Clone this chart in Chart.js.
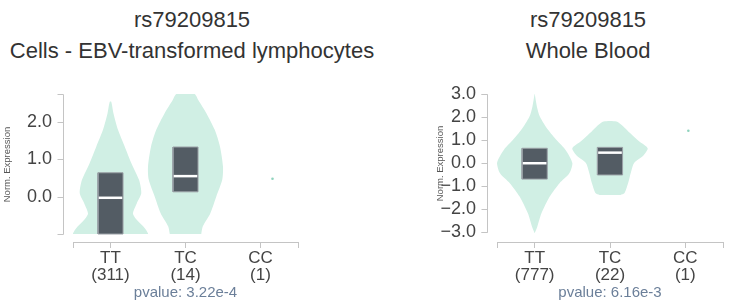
<!DOCTYPE html>
<html>
<head>
<meta charset="utf-8">
<script src="https://cdn.jsdelivr.net/npm/chart.js@4/dist/chart.umd.min.js"></script>
<style>
body { margin: 0; background: #fff; width: 741px; height: 308px; overflow: hidden; position: relative; font-family: 'Liberation Sans', Arial, sans-serif; }
.title { position: absolute; top: 4px; text-align: center; font-size: 22px; line-height: 31px; color: #333; white-space: nowrap; }
canvas { position: absolute; top: 0; }
</style>
</head>
<body>
<div class="title" style="left:0;width:384px">rs79209815<br>Cells - EBV-transformed lymphocytes</div>
<div class="title" style="left:438px;width:300px">rs79209815<br>Whole Blood</div>
<canvas id="lcl" width="370" height="308" style="left:0"></canvas>
<canvas id="blood" width="321" height="308" style="left:420px"></canvas>
<script>
// genotype groups, placed at 0.5, 1.5, 2.5 on a linear x scale
const genotypes = ['TT', 'TC', 'CC'];
const xTickValues = [0, 0.5, 1.5, 2.5, 3];

// Cells - EBV-transformed lymphocytes
const lclCounts = [311, 14, 1];
const lclPvalue = 'pvalue: 3.22e-4';
const lclYTicks = [0, 1, 2];
const lclDomain = [-1, 2.75];
const lclTTLevels = [-1.0, -0.98, -0.85, -0.62, -0.45, -0.18, 0.09, 0.45, 0.89, 1.34, 1.79, 2.23, 2.545];
const lclTTWidths = [0.5, 0.5, 0.46, 0.35, 0.30, 0.35, 0.41, 0.38, 0.28, 0.19, 0.10, 0.04, 0.01];
const lclTCLevels = [-1.0, -0.8, -0.45, 0, 0.45, 0.8, 1.34, 1.79, 2.23, 2.59, 2.75];
const lclTCWidths = [0.21, 0.23, 0.33, 0.41, 0.49, 0.50, 0.46, 0.39, 0.28, 0.17, 0.12];
const lclQ1 = [-1.0, 0.13];
const lclMedian = [-0.03, 0.55];
const lclQ3 = [0.64, 1.33];
const lclCCValue = 0.48;
const lclCCJitter = 0.16;

// Whole Blood
const bloodCounts = [777, 22, 1];
const bloodPvalue = 'pvalue: 6.16e-3';
const bloodYTicks = [-3, -2, -1, 0, 1, 2, 3];
const bloodDomain = [-3, 3];
const bloodTTLevels = [-3.05, -2.77, -2.19, -1.46, -0.88, -0.45, 0, 0.57, 1.0, 1.43, 2.01, 2.45, 3.03];
const bloodTTWidths = [0, 0.035, 0.09, 0.20, 0.33, 0.46, 0.50, 0.41, 0.29, 0.18, 0.07, 0.03, 0];
const bloodTCLevels = [-1.39, -1.32, -0.88, -0.38, 0, 0.35, 0.64, 0.93, 1.29, 1.58, 1.80];
const bloodTCWidths = [0.14, 0.19, 0.24, 0.28, 0.32, 0.45, 0.50, 0.39, 0.27, 0.18, 0.085];
const bloodQ1 = [-0.70, -0.52];
const bloodMedian = [-0.01, 0.45];
const bloodQ3 = [0.64, 0.68];
const bloodCCValue = 1.4;
const bloodCCJitter = 0.04;

const violinColor = '#d0efe4';
const boxColor = '#535c64';
const axisColor = '#c4c4c4';
const boxHalf = 0.167;

Chart.defaults.font.family = "'Liberation Sans', Arial, sans-serif";

// closed outline of a violin: right edge upwards, left edge back down
function violinPoints(center, levels, widths) {
    const right = levels.map((v, i) => ({ x: center + widths[i], y: v }));
    const left = levels.map((v, i) => ({ x: center - widths[i], y: v })).reverse();
    return right.concat(left);
}

function boxPoints(center, q1, q3) {
    return [
        { x: center - boxHalf, y: q1 }, { x: center + boxHalf, y: q1 },
        { x: center + boxHalf, y: q3 }, { x: center - boxHalf, y: q3 },
        { x: center - boxHalf, y: q1 }
    ];
}

const fmt = v => v.toFixed(1).replace('-', '\u2212');

// y axis drawn d3-style, a little left of the plot, with end ticks and its title
const offsetAxis = {
    id: 'offsetAxis',
    afterDraw(chart, args, opts) {
        const { ctx, chartArea, scales: { y } } = chart;
        const x0 = Math.round(chartArea.left - 10) + 0.5;
        const top = Math.round(y.getPixelForValue(opts.domain[1])) + 0.5;
        const bot = Math.round(y.getPixelForValue(opts.domain[0])) + 0.5;
        ctx.save();
        ctx.strokeStyle = axisColor;
        ctx.lineWidth = 1;
        ctx.beginPath();
        ctx.moveTo(x0 - 6, top);
        ctx.lineTo(x0, top);
        ctx.lineTo(x0, bot);
        ctx.lineTo(x0 - 6, bot);
        y.ticks.forEach(t => {
            const py = Math.round(y.getPixelForValue(t.value)) + 0.5;
            ctx.moveTo(x0 - 6, py);
            ctx.lineTo(x0, py);
        });
        ctx.stroke();
        // axis title
        ctx.translate(opts.titleX, (top + bot) / 2);
        ctx.rotate(-Math.PI / 2);
        ctx.fillStyle = '#555';
        ctx.font = "9.5px 'Liberation Sans', Arial, sans-serif";
        ctx.textAlign = 'center';
        ctx.textBaseline = 'middle';
        ctx.fillText('Norm. Expression', 0, 0);
        ctx.restore();
    }
};

function makePanel(id, p) {
    const datasets = [];
    const groups = [[p.ttLevels, p.ttWidths], [p.tcLevels, p.tcWidths]];
    groups.forEach((g, i) => {
        const c = i + 0.5;
        datasets.push({
            data: violinPoints(c, g[0], g[1]), showLine: true, fill: 'shape', tension: 0.25,
            backgroundColor: violinColor, borderColor: 'rgba(0,0,0,0)', borderWidth: 1, pointRadius: 0, order: 4
        });
        datasets.push({
            data: boxPoints(c, p.q1[i], p.q3[i]), showLine: true, fill: 'shape', tension: 0,
            backgroundColor: boxColor, borderColor: '#9aa0a6', borderWidth: 1, pointRadius: 0, order: 3
        });
        datasets.push({
            data: [{ x: c - boxHalf + 0.01, y: p.median[i] }, { x: c + boxHalf - 0.01, y: p.median[i] }],
            showLine: true, fill: false, borderColor: '#ffffff', borderWidth: 2.5, pointRadius: 0, order: 2
        });
    });
    // single CC sample
    datasets.push({
        data: [{ x: 2.5 + p.ccJitter, y: p.ccValue }], pointRadius: 1.3, pointBorderWidth: 0,
        backgroundColor: '#8fd3bd', order: 1
    });

    const pxPerUnit = (p.domainPx[1] - p.domainPx[0]) / (p.domain[1] - p.domain[0]);
    const yMin = p.domain[0] - (242 - p.domainPx[1]) / pxPerUnit;

    return new Chart(document.getElementById(id), {
        type: 'scatter',
        data: { datasets },
        plugins: [offsetAxis],
        options: {
            responsive: false,
            animation: false,
            devicePixelRatio: 1,
            layout: { padding: { top: 94, right: p.padRight, left: 0, bottom: 0 } },
            plugins: {
                legend: { display: false },
                tooltip: { enabled: false },
                offsetAxis: { domain: p.domain, titleX: p.titleX }
            },
            scales: {
                x: {
                    type: 'linear', min: 0, max: 3,
                    afterFit: s => { s.height = 66; },
                    afterBuildTicks: s => { s.ticks = xTickValues.map(v => ({ value: v })); },
                    ticks: {
                        autoSkip: false, maxRotation: 0, padding: 1.5, color: '#444',
                        font: { size: 17, lineHeight: 1 },
                        callback: v => {
                            const i = Math.round(v - 0.5);
                            if (v % 1 === 0) return '';
                            return [genotypes[i], '(' + p.counts[i] + ')'];
                        }
                    },
                    grid: { drawOnChartArea: false, drawTicks: true, tickLength: 6, color: axisColor },
                    border: { display: true, color: axisColor },
                    title: { display: true, text: p.pvalue, color: '#6b7f99', font: { size: 15 }, padding: { top: 0, bottom: 6 } }
                },
                y: {
                    min: yMin, max: p.domain[1],
                    afterFit: s => { s.width = p.yWidth; },
                    afterBuildTicks: s => { s.ticks = p.yTicks.map(v => ({ value: v })); },
                    ticks: { padding: 21, color: '#444', font: { size: 18 }, callback: v => fmt(v) },
                    grid: { display: false, drawTicks: false },
                    border: { display: false }
                }
            }
        }
    });
}

makePanel('lcl', {
    counts: lclCounts, pvalue: lclPvalue, yTicks: lclYTicks, domain: lclDomain, domainPx: [94, 234],
    ttLevels: lclTTLevels, ttWidths: lclTTWidths, tcLevels: lclTCLevels, tcWidths: lclTCWidths,
    q1: lclQ1, median: lclMedian, q3: lclQ3, ccValue: lclCCValue, ccJitter: lclCCJitter,
    padRight: 72, yWidth: 73, titleX: 7
});

makePanel('blood', {
    counts: bloodCounts, pvalue: bloodPvalue, yTicks: bloodYTicks, domain: bloodDomain, domainPx: [94, 232],
    ttLevels: bloodTTLevels, ttWidths: bloodTTWidths, tcLevels: bloodTCLevels, tcWidths: bloodTCWidths,
    q1: bloodQ1, median: bloodMedian, q3: bloodQ3, ccValue: bloodCCValue, ccJitter: bloodCCJitter,
    padRight: 18, yWidth: 77, titleX: 20
});
</script>
</body>
</html>
